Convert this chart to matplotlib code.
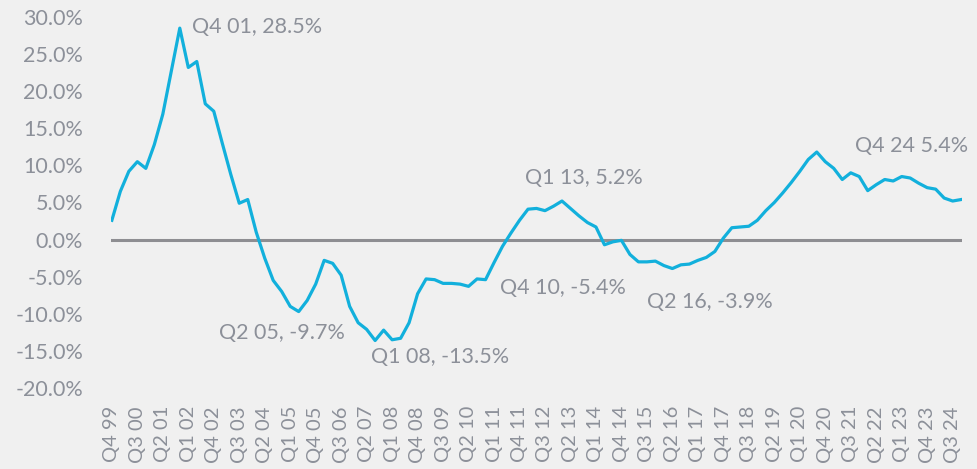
import matplotlib
matplotlib.use('Agg')
import matplotlib.pyplot as plt

# quarterly labels Q4 99 .. Q4 24
quarters = ['Q4 99']
for yr in range(2000, 2025):
    for q in range(1, 5):
        quarters.append(f'Q{q} {yr % 100:02d}')

growth = [
    2.6, 6.5, 9.2, 10.5, 9.6, 12.8, 16.9, 22.7, 28.5, 23.2,
    24.0, 18.3, 17.3, 13.0, 8.8, 4.9, 5.4, 1.0, -2.5, -5.5,
    -7.0, -9.0, -9.7, -8.2, -6.0, -2.8, -3.2, -4.8, -9.0, -11.2,
    -12.1, -13.6, -12.2, -13.5, -13.3, -11.2, -7.3, -5.3, -5.4, -5.9,
    -5.9, -6.0, -6.3, -5.3, -5.4, -3.1, -0.9, 0.9, 2.6, 4.1,
    4.2, 3.9, 4.5, 5.2, 4.2, 3.2, 2.3, 1.7, -0.7, -0.3,
    -0.1, -2.0, -3.0, -3.0, -2.9, -3.5, -3.9, -3.4, -3.3, -2.8,
    -2.4, -1.6, 0.2, 1.6, 1.7, 1.8, 2.6, 3.9, 5.0, 6.3,
    7.7, 9.2, 10.8, 11.8, 10.5, 9.6, 8.1, 9.0, 8.5, 6.6,
    7.4, 8.1, 7.9, 8.5, 8.3, 7.6, 7.0, 6.8, 5.6, 5.2,
    5.4,
]

# labelled points: quarter, separator, text position (px)
callouts = [
    ('Q4 01', ', ', 192, 27),
    ('Q2 05', ', ', 219, 333),
    ('Q1 08', ', ', 371, 357),
    ('Q4 10', ', ', 500, 288),
    ('Q1 13', ', ', 525, 178),
    ('Q2 16', ', ', 647, 302),
    ('Q4 24', ' ', 855, 146),
]

bg = '#f0f0f0'
txt = '#8c9099'
W, H = 977, 469

fig = plt.figure(figsize=(W / 100, H / 100), dpi=100, facecolor=bg)
ax = fig.add_axes([111 / W, 1 - 388 / H, (962 - 111) / W, (388 - 17) / H])
ax.set_facecolor(bg)

x = list(range(len(growth)))
ax.axhline(0, color='#8e8e92', lw=2.2, zorder=1)
ax.plot(x, growth, color='#12b0dc', lw=2.3, zorder=2)

ax.set_xlim(-0.1, len(growth) - 0.9)
ax.set_ylim(-20, 30)
ax.set_yticks(range(-20, 31, 5))
ax.set_yticklabels([f'{v:.1f}%' for v in range(-20, 31, 5)])
ax.set_xticks(x[:-1:3])
ax.set_xticklabels(quarters[:-1:3], rotation=90)
ax.tick_params(length=0, colors=txt)
ax.tick_params(axis='y', pad=20, labelsize=15.5)
ax.tick_params(axis='x', pad=13, labelsize=14.5)
for lab in ax.get_xticklabels() + ax.get_yticklabels():
    lab.set_family('Lato')
for s in ax.spines.values():
    s.set_visible(False)

for q, sep, px, py in callouts:
    v = growth[quarters.index(q)]
    fig.text(px / W, 1 - py / H, f'{q}{sep}{v:.1f}%', ha='left', va='center',
             color=txt, fontsize=15.5, family='Lato')

fig.savefig('out.png', dpi=100, facecolor=bg)
